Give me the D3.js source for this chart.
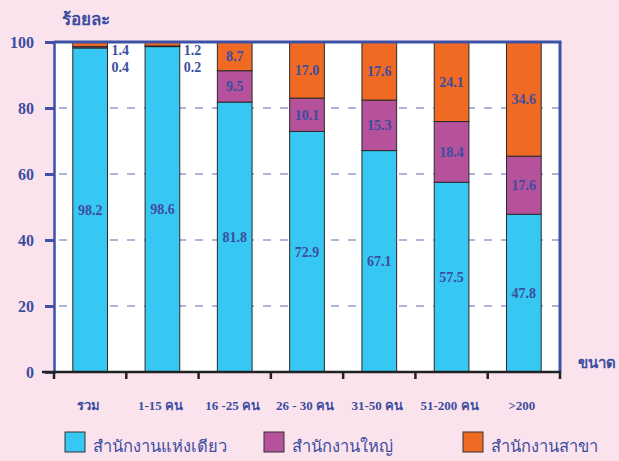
<!DOCTYPE html>
<html><head><meta charset="utf-8">
<script src="https://cdn.jsdelivr.net/npm/d3@7"></script>
<style>
html,body{margin:0;padding:0;background:#fbe3ee;}
svg{display:block;}
text{font-family:"Liberation Serif","Times New Roman","DejaVu Serif",serif;}
</style></head>
<body>
<svg id="c" width="619" height="461"></svg>
<script>
const categories = ["รวม","1-15 คน","16 -25 คน","26 - 30 คน","31-50 คน","51-200 คน",">200"];
const single = [98.2,98.6,81.8,72.9,67.1,57.5,47.8];
const head = [0.4,0.2,9.5,10.1,15.3,18.4,17.6];
const branch = [1.4,1.2,8.7,17.0,17.6,24.1,34.6];
const seriesNames = ["สำนักงานแห่งเดียว","สำนักงานใหญ่","สำนักงานสาขา"];
const seriesColors = ["#37c7f3","#b6519c","#f06a24"];
const yTicks = [0,20,40,60,80,100];

const svg = d3.select("#c");
const L=54,R=560,T=42,B=372;
const txt="#3d4d9e";
const x = d3.scaleBand().domain(categories).range([L,R]);
const y = d3.scaleLinear().domain([0,100]).range([B,T]);

svg.append("rect").attr("x",L).attr("y",T).attr("width",R-L).attr("height",B-T).attr("fill","#fff");

// gridlines
svg.append("g").selectAll("line").data(yTicks.filter(d=>d>0&&d<100)).join("line")
  .attr("x1",L+3).attr("x2",R).attr("y1",d=>y(d)).attr("y2",d=>y(d))
  .attr("stroke","#5b6db0").attr("stroke-width",1.2).attr("stroke-dasharray","8,9").attr("stroke-dashoffset",-2);

const rows = categories.map((c,i)=>({cat:c, s0:single[i], s1:head[i], s2:branch[i]}));
const stack = d3.stack().keys(["s0","s1","s2"])(rows);
const bw = x.bandwidth()*0.48;
const bx = d=>x(d.data.cat)+(x.bandwidth()-bw)/2;

stack.forEach((layer,k)=>{
  svg.append("g").selectAll("rect").data(layer).join("rect")
    .attr("x",bx).attr("width",bw)
    .attr("y",d=>y(d[1])).attr("height",d=>y(d[0])-y(d[1]))
    .attr("fill",seriesColors[k]).attr("stroke","#2a2a2a").attr("stroke-width",1);
});

// value labels
stack.forEach((layer,k)=>{
  layer.forEach((d,i)=>{
    const v = d[1]-d[0];
    const cx = x(d.data.cat)+x.bandwidth()/2;
    let tx=cx, ty=(y(d[0])+y(d[1]))/2+5, anchor="middle";
    if (i<2 && k>0){
      tx = x(d.data.cat)+x.bandwidth()/2+bw/2+4; anchor="start";
      ty = k===2 ? 55 : 72;
    }
    svg.append("text").attr("x",tx).attr("y",ty).attr("text-anchor",anchor)
      .attr("font-size",14).attr("font-weight","bold").attr("fill",txt).text(v.toFixed(1));
  });
});

// axes frame
svg.append("line").attr("x1",L).attr("x2",R+1.5).attr("y1",T).attr("y2",T).attr("stroke","#3d52a6").attr("stroke-width",3);
svg.append("line").attr("x1",R).attr("x2",R).attr("y1",T).attr("y2",B).attr("stroke","#3d52a6").attr("stroke-width",3);

const yAxis = svg.append("g").attr("transform",`translate(${L},0)`)
  .call(d3.axisLeft(y).tickValues(yTicks).tickSize(9).tickPadding(11));
yAxis.select(".domain").attr("stroke","#3d52a6").attr("stroke-width",2.5);
yAxis.selectAll(".tick line").attr("stroke","#3d52a6").attr("stroke-width",3);
yAxis.selectAll(".tick text").attr("font-size",16).attr("font-weight","bold").attr("fill",txt)
  .attr("font-family","Liberation Serif, serif");

const xAxis = svg.append("g").attr("transform",`translate(0,${B})`)
  .call(d3.axisBottom(x).tickSize(0).tickFormat(""));
xAxis.select(".domain").remove();
svg.append("line").attr("x1",L-12).attr("x2",R+1).attr("y1",B).attr("y2",B).attr("stroke","#222").attr("stroke-width",2.5);
const edges = categories.map(c=>x(c)).concat([R]);
svg.append("g").selectAll("line").data(edges).join("line")
  .attr("x1",d=>d).attr("x2",d=>d).attr("y1",B).attr("y2",B+7).attr("stroke","#222").attr("stroke-width",2.5);
svg.append("g").selectAll("text").data(categories).join("text")
  .attr("x",d=>x(d)+x.bandwidth()/2-2).attr("y",410).attr("text-anchor","middle")
  .attr("font-size",13).attr("font-weight","bold").attr("fill",txt).text(d=>d);

svg.append("text").attr("x",62).attr("y",25).attr("font-size",17).attr("font-weight","bold").attr("fill",txt).text("ร้อยละ");
svg.append("text").attr("x",578).attr("y",368).attr("font-size",15).attr("font-weight","bold").attr("fill",txt).text("ขนาด");

// legend
const lx=[65,264,463];
seriesNames.forEach((n,k)=>{
  svg.append("rect").attr("x",lx[k]).attr("y",432).attr("width",20).attr("height",20)
    .attr("fill",seriesColors[k]).attr("stroke","#333").attr("stroke-width",1);
  svg.append("text").attr("x",lx[k]+28).attr("y",452).attr("font-size",16.5).attr("fill",txt).text(n);
});
</script>
</body></html>
